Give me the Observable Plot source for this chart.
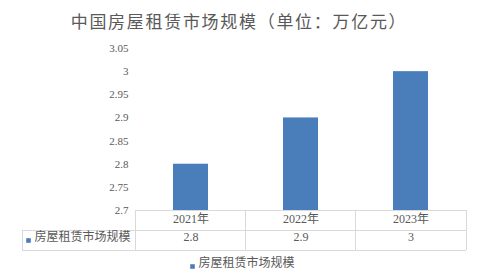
<!DOCTYPE html>
<html><head><meta charset="utf-8">
<script src="https://cdn.jsdelivr.net/npm/d3@7"></script>
<script src="https://cdn.jsdelivr.net/npm/@observablehq/plot@0.6"></script>
<style>body{margin:0;background:#fff;} #chart svg{display:block;}</style>
</head><body><div id="chart"></div>
<script>
const years = ["2021年", "2022年", "2023年"];
const values = [2.8, 2.9, 3];
const valueLabels = ["2.8", "2.9", "3"];
const yTicks = [2.7, 2.75, 2.8, 2.85, 2.9, 2.95, 3, 3.05];
const seriesName = "房屋租赁市场规模";
const title = "中国房屋租赁市场规模（单位：万亿元）";

const barColor = "#4a7ebb";
const textColor = "#595959";
const lineColor = "#d9d9d9";
const data = years.map((year, i) => ({year, value: values[i], label: valueLabels[i]}));
const yMin = yTicks[0], yMax = yTicks[yTicks.length - 1];

const plot = Plot.plot({
  width: 488, height: 279,
  marginTop: 48, marginBottom: 69, marginLeft: 135, marginRight: 22,
  style: {fontFamily: "'Liberation Serif', 'Noto Sans CJK SC', serif", color: textColor, background: "#fff"},
  x: {domain: years, paddingInner: 0.68, paddingOuter: 0.34, label: null},
  y: {domain: [yMin, yMax], label: null},
  marks: [
    Plot.axisY({ticks: yTicks, tickSize: 0, tickPadding: 7, fontSize: 11, tickFormat: d => String(d), label: null}),
    Plot.axisX({tickSize: 0, tickPadding: 4, fontSize: 12, label: null}),
    Plot.barY(data, {x: "year", y1: () => yMin, y2: "value", fill: barColor}),
    Plot.text(data, {x: "year", text: "label", frameAnchor: "bottom", dy: 30, fontSize: 12, fill: textColor}),
    Plot.dot([seriesName], {frameAnchor: "bottom-left", dx: -107, dy: 30, symbol: "square", r: 2.6, fill: barColor}),
    Plot.text([seriesName], {frameAnchor: "bottom-left", text: d => d, dx: -101, dy: 30, textAnchor: "start", fontSize: 12, fill: textColor}),
    Plot.dot([seriesName], {frameAnchor: "bottom-left", dx: 57, dy: 56, symbol: "square", r: 2.6, fill: barColor}),
    Plot.text([seriesName], {frameAnchor: "bottom-left", text: d => d, dx: 63, dy: 56, textAnchor: "start", fontSize: 12, fill: textColor}),
    Plot.text([title], {frameAnchor: "top", text: d => d, dx: -62, dy: -33, fontSize: 17, fill: textColor, className: "chart-title"})
  ]
});
document.getElementById("chart").appendChild(plot);
d3.select(plot).selectAll(".chart-title text").attr("letter-spacing", "1.7px");

// data table grid drawn from the plot's x scale
const xs = plot.scale("x");
const band = d3.scaleBand().domain(xs.domain).range(xs.range)
  .paddingInner(xs.paddingInner).paddingOuter(xs.paddingOuter);
const step = band.step();
const left = xs.range[0], right = xs.range[1];
const y0 = plot.scale("y").range[0];
const rowH = 20;
const tableLeft = 22;
const svg = d3.select(plot);
const g = svg.insert("g", ":first-child").attr("stroke", lineColor).attr("stroke-width", 1).attr("shape-rendering", "crispEdges");
g.append("line").attr("x1", left).attr("x2", right).attr("y1", y0).attr("y2", y0);
g.append("line").attr("x1", tableLeft).attr("x2", right).attr("y1", y0 + rowH).attr("y2", y0 + rowH);
g.append("line").attr("x1", tableLeft).attr("x2", right).attr("y1", y0 + 2 * rowH).attr("y2", y0 + 2 * rowH);
g.append("line").attr("x1", tableLeft).attr("x2", tableLeft).attr("y1", y0 + rowH).attr("y2", y0 + 2 * rowH);
for (let i = 0; i <= years.length; i++) {
  const xb = left + i * step;
  g.append("line").attr("x1", xb).attr("x2", xb).attr("y1", y0).attr("y2", y0 + 2 * rowH);
}
</script>
</body></html>
